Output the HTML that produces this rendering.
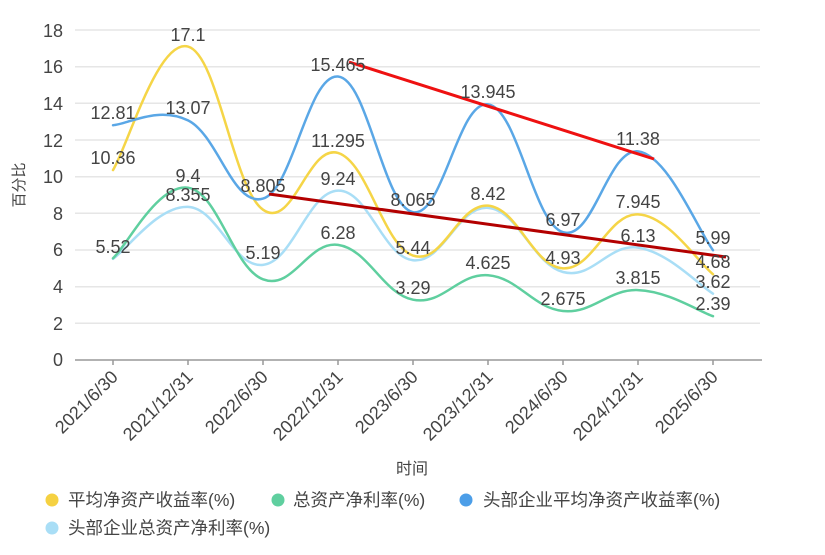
<!DOCTYPE html>
<html><head><meta charset="utf-8"><style>
html,body{margin:0;padding:0;background:#fff;}
svg{display:block;font-family:"Liberation Sans","Noto Sans CJK SC",sans-serif;}
</style></head><body>
<svg id="c" width="825" height="555" viewBox="0 0 825 555" xmlns="http://www.w3.org/2000/svg">
<g stroke="#e6e6e6" stroke-width="1.5">
<line x1="75" y1="30" x2="760" y2="30"/><line x1="75" y1="66.7" x2="760" y2="66.7"/>
<line x1="75" y1="103.3" x2="760" y2="103.3"/><line x1="75" y1="140" x2="760" y2="140"/>
<line x1="75" y1="176.7" x2="760" y2="176.7"/><line x1="75" y1="213.3" x2="760" y2="213.3"/>
<line x1="75" y1="250" x2="760" y2="250"/><line x1="75" y1="286.7" x2="760" y2="286.7"/>
<line x1="75" y1="323.3" x2="760" y2="323.3"/>
</g>
<line x1="75" y1="360" x2="762" y2="360" stroke="#999" stroke-width="1.5"/>
<g stroke="#999" stroke-width="1.5">
<line x1="113" y1="360" x2="113" y2="365"/><line x1="188" y1="360" x2="188" y2="365"/><line x1="263" y1="360" x2="263" y2="365"/><line x1="338" y1="360" x2="338" y2="365"/><line x1="413" y1="360" x2="413" y2="365"/><line x1="488" y1="360" x2="488" y2="365"/><line x1="563" y1="360" x2="563" y2="365"/><line x1="638" y1="360" x2="638" y2="365"/><line x1="713" y1="360" x2="713" y2="365"/>
</g>
<g fill="#444" font-size="18" text-anchor="end">
<text x="63" y="37">18</text><text x="63" y="73">16</text><text x="63" y="110">14</text><text x="63" y="147">12</text><text x="63" y="183">10</text><text x="63" y="220">8</text><text x="63" y="256">6</text><text x="63" y="293">4</text><text x="63" y="330">2</text><text x="63" y="366">0</text>
</g>
<text x="24" y="185" fill="#444" font-size="15" text-anchor="middle" transform="rotate(-90 24 185)">百分比</text>
<g fill="#444" font-size="18" text-anchor="end">
<text transform="translate(119,378) rotate(-45)">2021/6/30</text>
<text transform="translate(194,378) rotate(-45)">2021/12/31</text>
<text transform="translate(269,378) rotate(-45)">2022/6/30</text>
<text transform="translate(344,378) rotate(-45)">2022/12/31</text>
<text transform="translate(419,378) rotate(-45)">2023/6/30</text>
<text transform="translate(494,378) rotate(-45)">2023/12/31</text>
<text transform="translate(569,378) rotate(-45)">2024/6/30</text>
<text transform="translate(644,378) rotate(-45)">2024/12/31</text>
<text transform="translate(719,378) rotate(-45)">2025/6/30</text>
</g>
<text x="412" y="474" fill="#444" font-size="16" text-anchor="middle">时间</text>
<g id="series" fill="none" stroke-width="2.5" stroke-linecap="round"></g>
<line x1="269" y1="194" x2="726" y2="257" stroke="#b30000" stroke-width="3"/>
<line x1="349" y1="62" x2="654" y2="159" stroke="#ee1111" stroke-width="3"/>
<g fill="#444" font-size="18" text-anchor="middle">
<text x="113" y="119">12.81</text><text x="188" y="114">13.07</text><text x="263" y="192">8.805</text><text x="338" y="71">15.465</text><text x="413" y="206">8.065</text><text x="488" y="98">13.945</text><text x="563" y="226">6.97</text><text x="638" y="145">11.38</text><text x="713" y="244">5.99</text>
<text x="113" y="164">10.36</text><text x="188" y="41">17.1</text><text x="338" y="147">11.295</text><text x="488" y="200">8.42</text><text x="638" y="208">7.945</text><text x="713" y="268">4.68</text>
<text x="113" y="253">5.52</text><text x="188" y="201">8.355</text><text x="263" y="259">5.19</text><text x="338" y="185">9.24</text><text x="413" y="254">5.44</text><text x="563" y="264">4.93</text><text x="638" y="242">6.13</text><text x="713" y="288">3.62</text>
<text x="188" y="182">9.4</text><text x="338" y="239">6.28</text><text x="413" y="294">3.29</text><text x="488" y="269">4.625</text><text x="563" y="305">2.675</text><text x="638" y="284">3.815</text><text x="713" y="310">2.39</text>
</g>
<g font-size="17.5" fill="#444">
<circle cx="52" cy="500" r="6.5" fill="#f5d142"/><text x="68" y="506">平均净资产收益率(%)</text>
<circle cx="278" cy="500" r="6.5" fill="#5fcf9f"/><text x="293" y="506">总资产净利率(%)</text>
<circle cx="466" cy="500" r="6.5" fill="#4c9ee8"/><text x="483" y="506">头部企业平均净资产收益率(%)</text>
<circle cx="52" cy="528" r="6.5" fill="#a9def6"/><text x="68" y="534">头部企业总资产净利率(%)</text>
</g>
</svg>
<script>
var S=[
["#a9def6",[5.52,8.355,5.19,9.24,5.44,8.3,4.8,6.13,3.62]],
["#5fcf9f",[5.55,9.4,4.4,6.28,3.29,4.625,2.675,3.815,2.39]],
["#f5d547",[10.36,17.1,8.2,11.295,5.7,8.42,5.0,7.945,4.68]],
["#5aa7e6",[12.81,13.07,8.805,15.465,8.065,13.945,6.97,11.38,5.99]]
];
var g=document.getElementById('series');
S.forEach(function(s){
 var p=s[1].map(function(v,i){return [113+75*i,360-18.33*v];});
 var d='M'+p[0][0]+','+p[0][1];
 for(var i=0;i<p.length-1;i++){
  var p0=p[i-1]||p[i],p1=p[i],p2=p[i+1],p3=p[i+2]||p[i+1],t=0.2;
  var c1=[p1[0]+(p2[0]-p0[0])*t,p1[1]+(p2[1]-p0[1])*t];
  var c2=[p2[0]-(p3[0]-p1[0])*t,p2[1]-(p3[1]-p1[1])*t];
  d+=' C'+c1+' '+c2+' '+p2;
 }
 var e=document.createElementNS('http://www.w3.org/2000/svg','path');
 e.setAttribute('d',d);e.setAttribute('stroke',s[0]);g.appendChild(e);
});
</script>
</body></html>
